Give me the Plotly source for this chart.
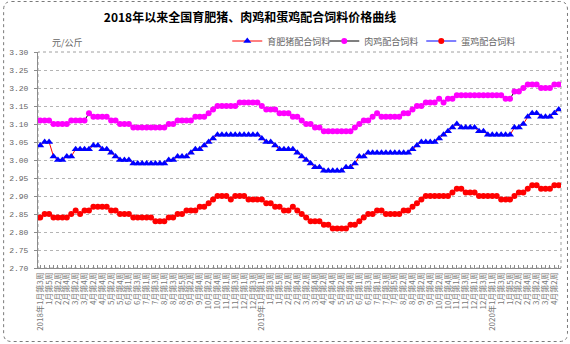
import plotly.graph_objects as go

# ---- canvas / plot-area geometry (pixels) ----
W, H = 570, 344
ML, MR, MT, MB = 36, 9, 52, 76
PW, PH = W - ML - MR, H - MT - MB

title_text = "2018年以来全国育肥猪、肉鸡和蛋鸡配合饲料价格曲线"
unit_text = "元/公斤"
series_names = ["育肥猪配合饲料", "肉鸡配合饲料", "蛋鸡配合饲料"]

# weekly reporting calendar: number of report weeks in each month
years = [2018, 2019, 2020]
weeks_per_month = {
    2018: [5, 4, 4, 4, 5, 4, 4, 5, 4, 5, 4, 4],
    2019: [5, 4, 4, 4, 5, 4, 5, 4, 4, 5, 4, 4],
    2020: [5, 4, 4, 3],
}
first_week = (2018, 1, 3)  # series starts at 2018, January, week 3

# price, yuan per kg
pig_feed = [
    3.04, 3.05, 3.05, 3.01, 3.00, 3.00, 3.01, 3.01, 3.03, 3.03,
    3.03, 3.03, 3.04, 3.04, 3.03, 3.03, 3.02, 3.01, 3.00, 3.00,
    3.00, 2.99, 2.99, 2.99, 2.99, 2.99, 2.99, 2.99, 2.99, 3.00,
    3.00, 3.01, 3.01, 3.01, 3.02, 3.03, 3.03, 3.04, 3.05, 3.06,
    3.07, 3.07, 3.07, 3.07, 3.07, 3.07, 3.07, 3.07, 3.07, 3.07,
    3.06, 3.05, 3.05, 3.04, 3.03, 3.03, 3.03, 3.03, 3.02, 3.01,
    3.00, 2.99, 2.98, 2.98, 2.97, 2.97, 2.97, 2.97, 2.97, 2.98,
    2.98, 2.99, 3.01, 3.01, 3.02, 3.02, 3.02, 3.02, 3.02, 3.02,
    3.02, 3.02, 3.02, 3.02, 3.03, 3.04, 3.05, 3.05, 3.05, 3.05,
    3.06, 3.07, 3.08, 3.09, 3.10, 3.09, 3.09, 3.09, 3.09, 3.08,
    3.08, 3.07, 3.07, 3.07, 3.07, 3.07, 3.07, 3.09, 3.09, 3.10,
    3.12, 3.13, 3.13, 3.12, 3.12, 3.12, 3.13, 3.14,
]
broiler_feed = [
    3.11, 3.11, 3.11, 3.10, 3.10, 3.10, 3.10, 3.11, 3.11, 3.11,
    3.11, 3.13, 3.12, 3.12, 3.12, 3.12, 3.11, 3.11, 3.10, 3.10,
    3.10, 3.09, 3.09, 3.09, 3.09, 3.09, 3.09, 3.09, 3.09, 3.10,
    3.10, 3.11, 3.11, 3.11, 3.11, 3.12, 3.12, 3.12, 3.13, 3.14,
    3.15, 3.15, 3.15, 3.15, 3.15, 3.16, 3.16, 3.16, 3.16, 3.16,
    3.15, 3.14, 3.14, 3.14, 3.13, 3.13, 3.13, 3.12, 3.12, 3.11,
    3.10, 3.10, 3.09, 3.09, 3.08, 3.08, 3.08, 3.08, 3.08, 3.08,
    3.08, 3.09, 3.10, 3.11, 3.11, 3.12, 3.13, 3.12, 3.12, 3.12,
    3.12, 3.12, 3.13, 3.13, 3.14, 3.15, 3.15, 3.16, 3.16, 3.16,
    3.17, 3.16, 3.17, 3.17, 3.18, 3.18, 3.18, 3.18, 3.18, 3.18,
    3.18, 3.18, 3.18, 3.18, 3.18, 3.17, 3.17, 3.19, 3.19, 3.20,
    3.21, 3.21, 3.21, 3.20, 3.20, 3.20, 3.21, 3.21,
]
layer_feed = [
    2.84, 2.85, 2.85, 2.84, 2.84, 2.84, 2.84, 2.85, 2.86, 2.85,
    2.86, 2.86, 2.87, 2.87, 2.87, 2.87, 2.86, 2.86, 2.85, 2.85,
    2.85, 2.84, 2.84, 2.84, 2.84, 2.84, 2.83, 2.83, 2.83, 2.84,
    2.84, 2.85, 2.85, 2.86, 2.86, 2.86, 2.87, 2.87, 2.88, 2.89,
    2.90, 2.90, 2.90, 2.89, 2.90, 2.90, 2.90, 2.89, 2.89, 2.89,
    2.89, 2.88, 2.88, 2.87, 2.87, 2.86, 2.86, 2.87, 2.86, 2.85,
    2.84, 2.83, 2.83, 2.83, 2.82, 2.82, 2.81, 2.81, 2.81, 2.81,
    2.82, 2.82, 2.83, 2.84, 2.85, 2.85, 2.86, 2.86, 2.85, 2.85,
    2.85, 2.85, 2.86, 2.86, 2.87, 2.88, 2.89, 2.90, 2.90, 2.90,
    2.90, 2.90, 2.90, 2.91, 2.92, 2.92, 2.91, 2.91, 2.91, 2.90,
    2.90, 2.90, 2.90, 2.90, 2.89, 2.89, 2.89, 2.90, 2.91, 2.91,
    2.92, 2.93, 2.93, 2.92, 2.92, 2.92, 2.93, 2.93,
]

# ---- week labels ----
week_labels = []
for yr in years:
    first_in_year = True
    for m, n in enumerate(weeks_per_month[yr], start=1):
        for wk in range(1, n + 1):
            if (yr, m) == first_week[:2] and wk < first_week[2]:
                continue
            if first_in_year:
                week_labels.append(f"{yr}年{m}月第{wk}周")
                first_in_year = False
            else:
                week_labels.append(f"{m}月第{wk}周")

xs = list(range(len(week_labels)))
tick_idx = xs[::2]
tick_txt = [week_labels[i] for i in tick_idx]

GRAY = "#8c8c8c"
CJK = "Noto Sans CJK SC"

fig = go.Figure()
styles = [
    (pig_feed, "#ff0000", "#0000ff", "triangle-up", 7),
    (broiler_feed, "#000000", "#ff00ff", "circle", 6),
    (layer_feed, "#0000ff", "#ff0000", "circle", 6),
]
for name, (vals, lcol, mcol, sym, msz) in zip(series_names, styles):
    fig.add_trace(go.Scatter(
        x=xs, y=vals, name=name, mode="lines+markers",
        line=dict(color=lcol, width=1),
        marker=dict(color=mcol, symbol=sym, size=msz, line=dict(width=0)),
    ))


def px_x(x):
    return (x - ML) / PW


def px_y(y):
    return 1 - (y - MT) / PH


# outer rounded frame
x0, y0, x1, y1, r = 1.5, 1.5, 567.5, 341.5, 8
pts = [
    f"M{px_x(x0 + r)},{px_y(y0)}",
    f"L{px_x(x1 - r)},{px_y(y0)}",
    f"Q{px_x(x1)},{px_y(y0)} {px_x(x1)},{px_y(y0 + r)}",
    f"L{px_x(x1)},{px_y(y1 - r)}",
    f"Q{px_x(x1)},{px_y(y1)} {px_x(x1 - r)},{px_y(y1)}",
    f"L{px_x(x0 + r)},{px_y(y1)}",
    f"Q{px_x(x0)},{px_y(y1)} {px_x(x0)},{px_y(y1 - r)}",
    f"L{px_x(x0)},{px_y(y0 + r)}",
    f"Q{px_x(x0)},{px_y(y0)} {px_x(x0 + r)},{px_y(y0)}",
    "Z",
]
fig.add_shape(type="path", xref="paper", yref="paper", path=" ".join(pts),
              line=dict(color="#7a7a7a", width=1, dash="dot"), layer="below")
# plot-area border
fig.add_shape(type="rect", xref="paper", yref="paper", x0=0, y0=0, x1=1, y1=1,
              line=dict(color="#a0a0a0", width=1, dash="dot"), layer="below")

fig.add_annotation(text=unit_text, xref="paper", yref="paper",
                   x=px_x(48), y=px_y(43), xanchor="left", yanchor="middle",
                   showarrow=False, font=dict(family=CJK, size=9, color="#666"))

fig.update_layout(
    width=W, height=H,
    margin=dict(l=ML, r=MR, t=MT, b=MB),
    paper_bgcolor="white", plot_bgcolor="white",
    title=dict(text=f"<b>{title_text}</b>", x=250 / W, xanchor="center",
               y=1 - 18 / H, yanchor="middle", xref="container", yref="container",
               font=dict(family=CJK, size=12, color="#000")),
    showlegend=True,
    legend=dict(orientation="h", x=px_x(226), y=px_y(41), xanchor="left",
                yanchor="middle", bgcolor="rgba(0,0,0,0)",
                font=dict(family=CJK, size=9, color="#666"),
                itemwidth=30, entrywidth=52, entrywidthmode="pixels",
                tracegroupgap=0),
    xaxis=dict(range=[-0.5, len(xs) - 0.5], tickmode="array",
               tickvals=tick_idx, ticktext=tick_txt, tickangle=-90,
               tickfont=dict(family=CJK, size=8, color="#777"),
               showgrid=False, zeroline=False, showline=True,
               linecolor=GRAY, linewidth=1, ticks="inside", ticklen=3,
               tickcolor=GRAY,
               minor=dict(tickmode="linear", tick0=0, dtick=1, ticks="inside",
                          ticklen=3, tickcolor=GRAY)),
    yaxis=dict(range=[2.70, 3.30], dtick=0.05, tickformat=".2f",
               tickfont=dict(family="Liberation Mono", size=8, color="#666"),
               showgrid=True, gridcolor="#b4b4b4", griddash="dot", gridwidth=1,
               zeroline=False, showline=True, linecolor=GRAY, linewidth=1,
               ticks="outside", ticklen=3, tickcolor=GRAY,
               ticklabelstandoff=4),
)

fig.write_html("out.html")
